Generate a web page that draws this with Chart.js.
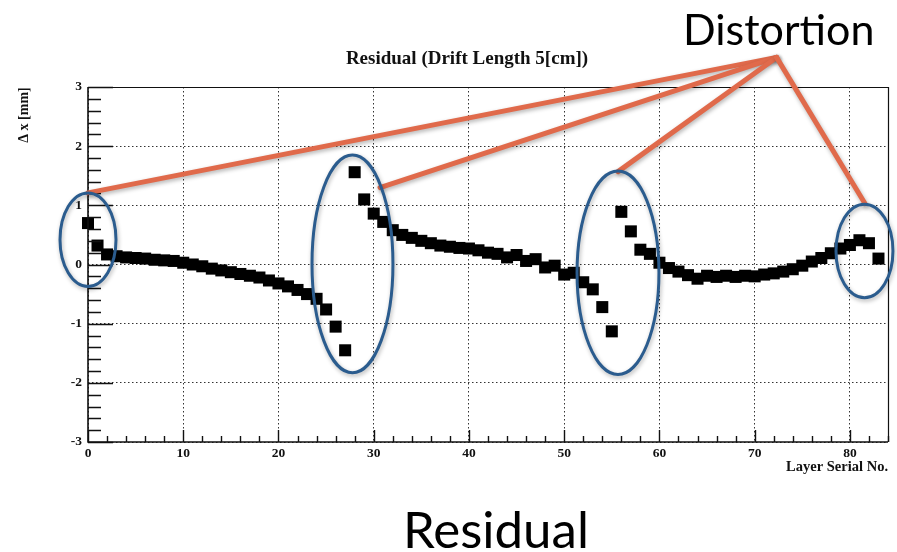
<!DOCTYPE html>
<html>
<head>
<meta charset="utf-8">
<script src="https://cdn.jsdelivr.net/npm/chart.js@4.4.1/dist/chart.umd.min.js"></script>
<style>
  html, body { margin: 0; padding: 0; background: #fff; }
  canvas { display: block; }
</style>
</head>
<body>
<canvas id="residualChart" width="897" height="552"></canvas>
<script>
// layer serial numbers
const layers = [
  0, 1, 2, 3, 4, 5, 6, 7, 8, 9, 10, 11, 12, 13, 14, 15, 16, 17, 18, 19,
  20, 21, 22, 23, 24, 25, 26, 27, 28, 29, 30, 31, 32, 33, 34, 35, 36, 37, 38, 39,
  40, 41, 42, 43, 44, 45, 46, 47, 48, 49, 50, 51, 52, 53, 54, 55, 56, 57, 58, 59,
  60, 61, 62, 63, 64, 65, 66, 67, 68, 69, 70, 71, 72, 73, 74, 75, 76, 77, 78, 79,
  80, 81, 82, 83
];

// residual (delta x, mm)
const residuals = [
  0.70, 0.32, 0.17, 0.14, 0.12, 0.11, 0.10, 0.08, 0.07, 0.06,
  0.03, 0.00, -0.03, -0.07, -0.10, -0.13, -0.16, -0.19, -0.22, -0.27,
  -0.32, -0.37, -0.43, -0.50, -0.58, -0.76, -1.05, -1.45,
  1.56, 1.10, 0.86, 0.72, 0.58, 0.50, 0.45, 0.40, 0.36, 0.32,
  0.30, 0.28, 0.27, 0.24, 0.20, 0.18, 0.12, 0.16, 0.06, 0.09,
  -0.05, -0.02, -0.17, -0.14, -0.30, -0.42, -0.72, -1.13,
  0.89, 0.56, 0.25, 0.18, 0.03, -0.06, -0.12, -0.18, -0.24, -0.19,
  -0.21, -0.19, -0.21, -0.19, -0.20, -0.17, -0.15, -0.12, -0.08, -0.02,
  0.05, 0.11, 0.19, 0.27, 0.33, 0.41, 0.36, 0.10
];

const xTicks = [0, 10, 20, 30, 40, 50, 60, 70, 80];
const yTicks = [-3, -2, -1, 0, 1, 2, 3];

// callout annotations, in data units
const ellipseCenters = [[0, 0.42], [27.77, 0.01], [55.65, -0.14], [81.53, 0.23]];
const ellipseRadii = [[2.94, 0.79], [4.25, 1.84], [4.30, 1.72], [2.99, 0.79]];
const calloutApex = [72.3, 3.50];
const calloutEnds = [[0, 1.21], [30.66, 1.30], [55.65, 1.57], [81.58, 1.03]];

const serif = "'Liberation Serif', 'DejaVu Serif', serif";

const rootFrame = {
  id: 'rootFrame',
  afterDraw(chart) {
    const ctx = chart.ctx;
    const a = chart.chartArea;
    const xs = chart.scales.x;
    const ys = chart.scales.y;
    ctx.save();

    // inner ticks, ROOT style
    ctx.strokeStyle = '#111';
    ctx.lineWidth = 1.4;
    ctx.beginPath();
    for (let i = 0; i <= 30; i++) {
      const v = -3 + i * 0.2;
      const py = Math.round(ys.getPixelForValue(v)) + 0.5;
      const len = (i % 5 === 0) ? 25 : 13;
      ctx.moveTo(a.left, py);
      ctx.lineTo(a.left + len, py);
    }
    for (let v = 0; v <= 84; v += 2) {
      const px = Math.round(xs.getPixelForValue(v)) + 0.5;
      const len = (v % 10 === 0) ? 12 : 6;
      ctx.moveTo(px, a.bottom);
      ctx.lineTo(px, a.bottom - len);
    }
    ctx.stroke();

    // frame
    ctx.lineWidth = 1.6;
    ctx.beginPath();
    ctx.moveTo(a.left, a.top);
    ctx.lineTo(a.left, a.bottom);
    ctx.lineTo(a.right, a.bottom);
    ctx.stroke();
    ctx.lineWidth = 1.2;
    ctx.beginPath();
    ctx.moveTo(a.left, a.top + 0.5);
    ctx.lineTo(a.right + 0.5, a.top + 0.5);
    ctx.lineTo(a.right + 0.5, a.bottom);
    ctx.stroke();

    // titles
    ctx.fillStyle = '#111';
    ctx.font = 'bold 19px ' + serif;
    ctx.textAlign = 'center';
    ctx.textBaseline = 'alphabetic';
    ctx.fillText('Residual (Drift Length 5[cm])', 467, 64);

    ctx.font = 'bold 14.5px ' + serif;
    ctx.textAlign = 'right';
    ctx.fillText('Layer Serial No.', a.right, 471);

    ctx.save();
    ctx.translate(28, 115);
    ctx.rotate(-Math.PI / 2);
    ctx.textAlign = 'center';
    ctx.font = 'bold 14px ' + serif;
    ctx.fillText('\u0394 x [mm]', 0, 0);
    ctx.restore();

    // orange callout lines
    ctx.shadowColor = 'rgba(0,0,0,0.3)';
    ctx.shadowBlur = 4;
    ctx.shadowOffsetX = 1;
    ctx.shadowOffsetY = 2;
    ctx.strokeStyle = '#e06a4b';
    ctx.lineWidth = 5;
    ctx.lineCap = 'round';
    const apx = xs.getPixelForValue(calloutApex[0]);
    const apy = ys.getPixelForValue(calloutApex[1]);
    calloutEnds.forEach(([ex, ey]) => {
      ctx.beginPath();
      ctx.moveTo(apx, apy);
      ctx.lineTo(xs.getPixelForValue(ex), ys.getPixelForValue(ey));
      ctx.stroke();
    });

    // blue ellipses
    ctx.strokeStyle = '#2b5c8e';
    ctx.lineWidth = 3;
    ellipseCenters.forEach(([cx, cy], i) => {
      const px = xs.getPixelForValue(cx);
      const py = ys.getPixelForValue(cy);
      const rx = Math.abs(xs.getPixelForValue(cx + ellipseRadii[i][0]) - px);
      const ry = Math.abs(ys.getPixelForValue(cy + ellipseRadii[i][1]) - py);
      ctx.beginPath();
      ctx.ellipse(px, py, rx, ry, 0, 0, Math.PI * 2);
      ctx.stroke();
    });
    ctx.shadowColor = 'transparent';

    // slide captions
    ctx.fillStyle = '#000';
    ctx.textAlign = 'left';
    ctx.font = '43px Lato, "Open Sans", sans-serif';
    ctx.fillText('Distortion', 683, 45);
    ctx.font = '51px Lato, "Open Sans", sans-serif';
    ctx.fillText('Residual', 403, 548);

    ctx.restore();
  }
};

const ctx = document.getElementById('residualChart').getContext('2d');

new Chart(ctx, {
  type: 'scatter',
  data: {
    datasets: [{
      label: 'Residual',
      data: layers.map((l, i) => ({ x: l, y: residuals[i] })),
      pointStyle: 'rect',
      pointRadius: 8.5,
      pointHoverRadius: 8.5,
      backgroundColor: '#000',
      borderColor: '#000',
      borderWidth: 0,
      showLine: false,
      clip: false
    }]
  },
  options: {
    responsive: false,
    animation: false,
    devicePixelRatio: 1,
    layout: { padding: { top: 87, right: 9, left: 0, bottom: 0 } },
    plugins: {
      legend: { display: false },
      title: { display: false },
      tooltip: { enabled: false }
    },
    scales: {
      x: {
        type: 'linear',
        min: 0,
        max: 84,
        afterBuildTicks: (scale) => { scale.ticks = xTicks.map(v => ({ value: v })); },
        afterFit: (scale) => { scale.height = 110; },
        ticks: {
          color: '#111',
          font: { family: serif, size: 13.5, weight: 'bold' },
          padding: 3,
          maxRotation: 0,
          autoSkip: false
        },
        grid: { color: '#333', lineWidth: 1, drawTicks: false },
        border: { display: false, dash: [1.5, 2.5] }
      },
      y: {
        type: 'linear',
        min: -3,
        max: 3,
        afterBuildTicks: (scale) => { scale.ticks = yTicks.map(v => ({ value: v })); },
        afterFit: (scale) => { scale.width = 88; },
        ticks: {
          color: '#111',
          font: { family: serif, size: 13.5, weight: 'bold' },
          padding: 6,
          autoSkip: false
        },
        grid: { color: '#333', lineWidth: 1, drawTicks: false },
        border: { display: false, dash: [1.5, 2.5] }
      }
    }
  },
  plugins: [rootFrame]
});
</script>
</body>
</html>
